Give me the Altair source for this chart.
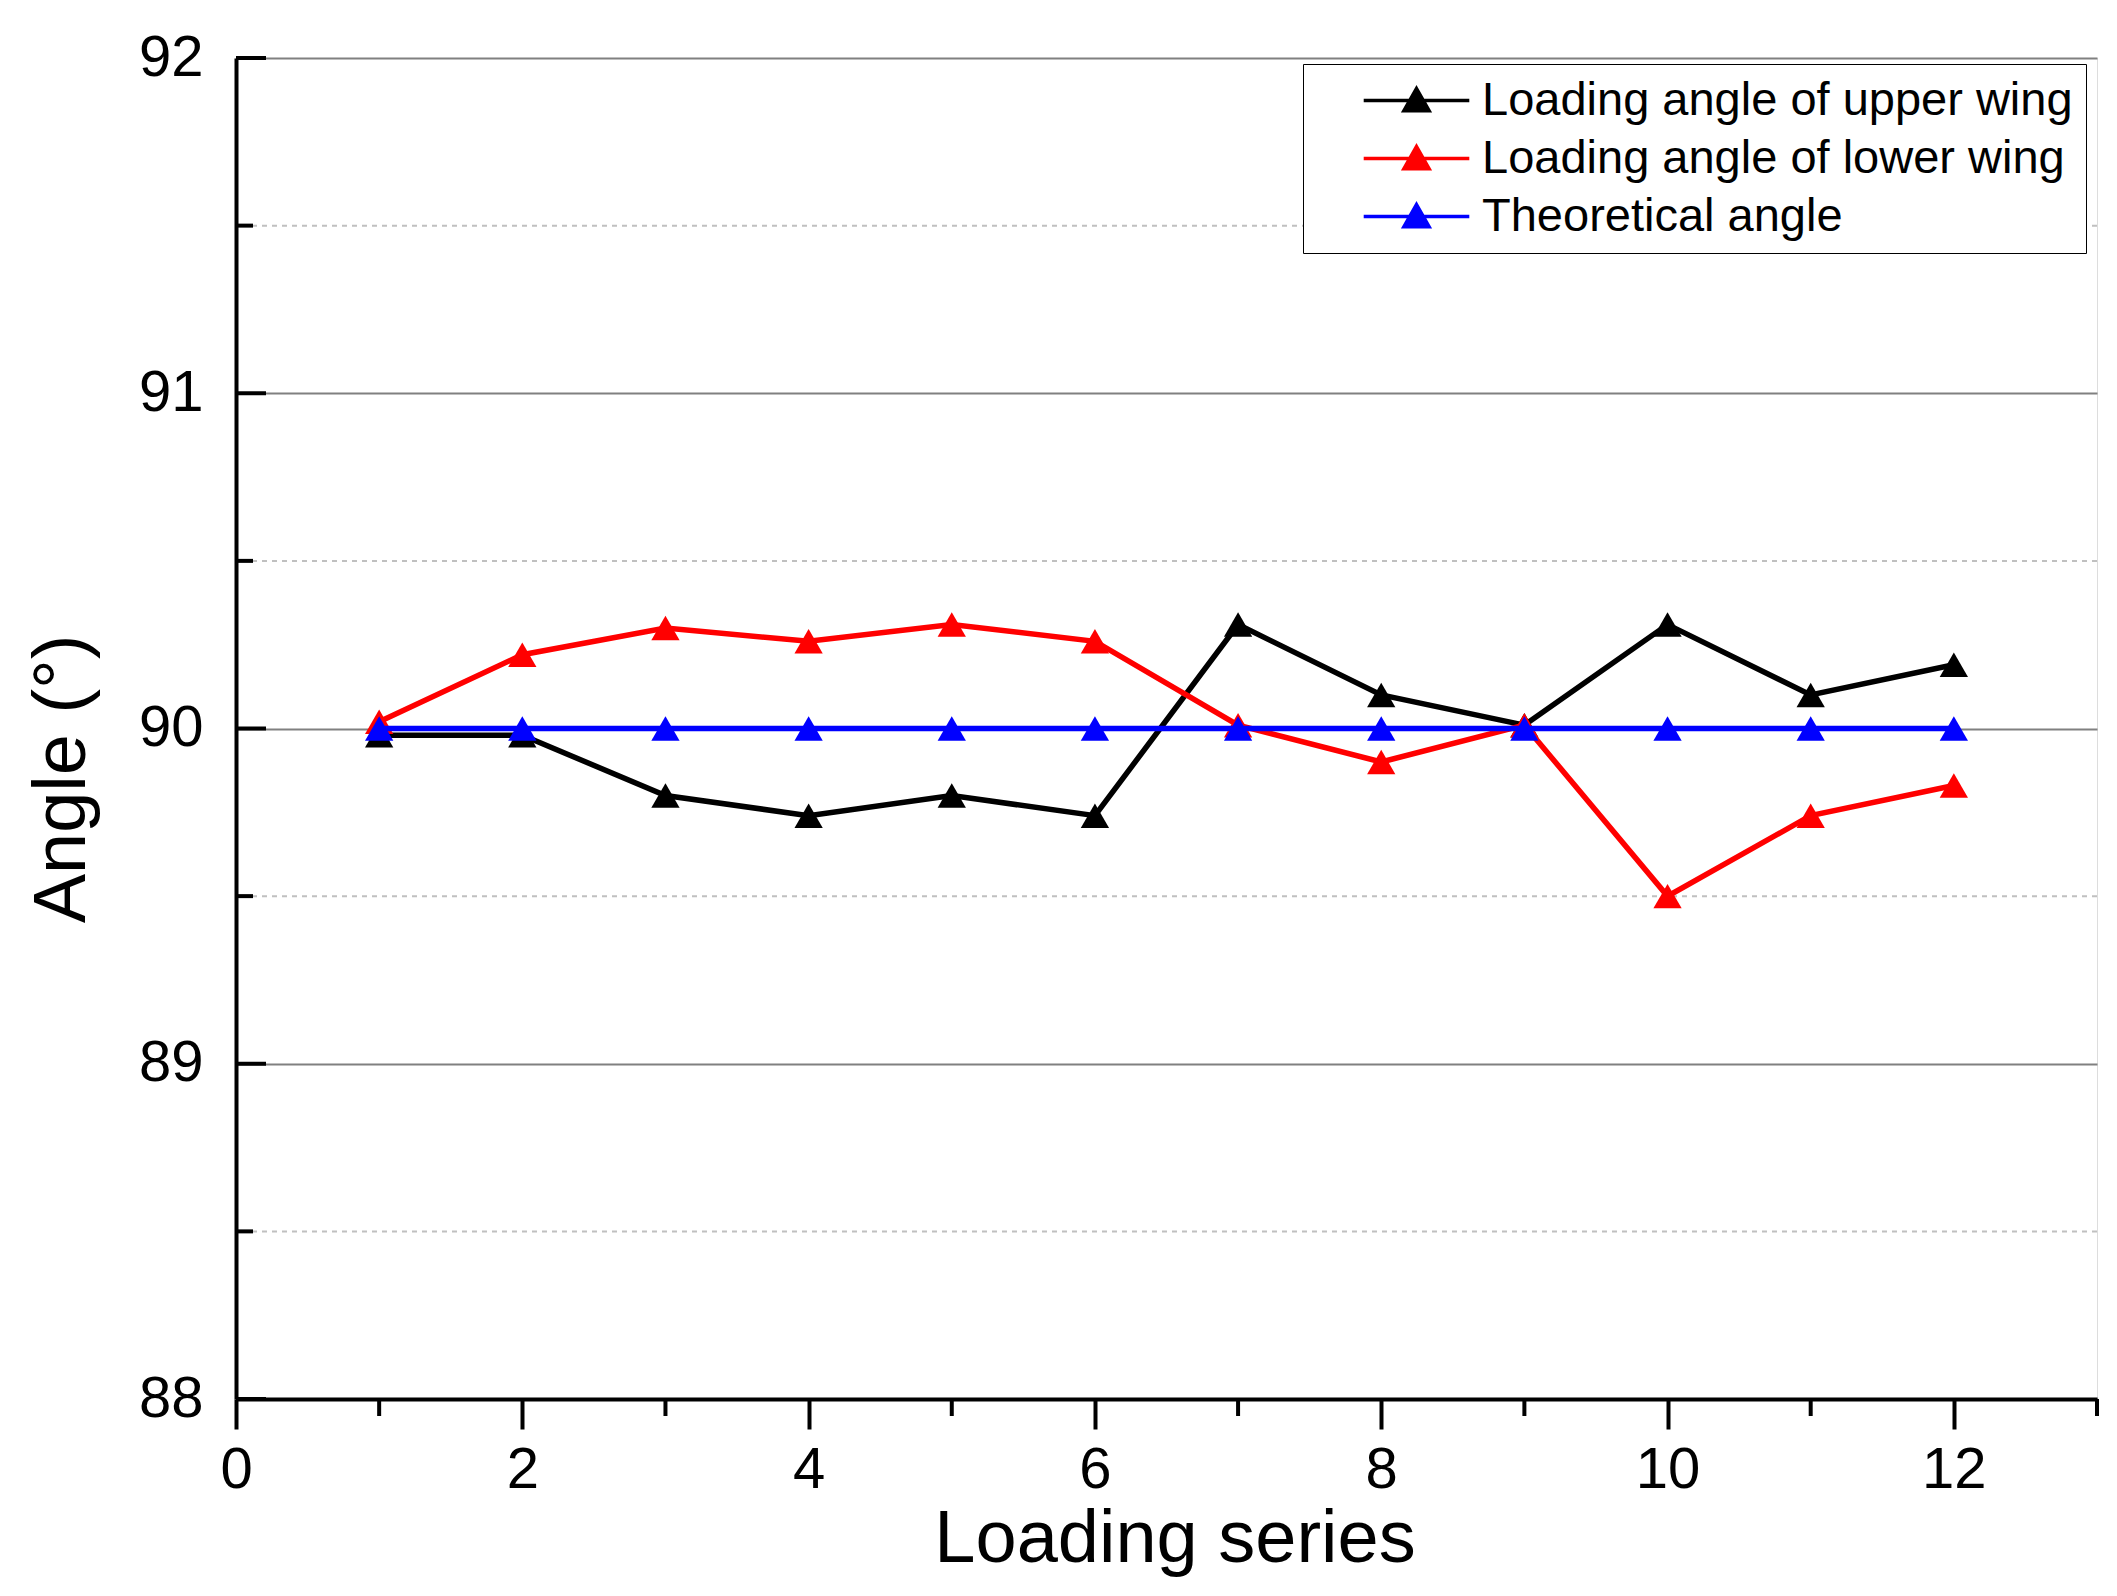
import altair as alt
import pandas as pd

# ---- data ----
loading = [1, 2, 3, 4, 5, 6, 7, 8, 9, 10, 11, 12]
upper_wing = [89.98, 89.98, 89.80, 89.74, 89.80, 89.74, 90.31, 90.10, 90.01, 90.31, 90.10, 90.19]
lower_wing = [90.02, 90.22, 90.30, 90.26, 90.31, 90.26, 90.01, 89.90, 90.01, 89.50, 89.74, 89.83]
theoretical = [90.0, 90.0, 90.0, 90.0, 90.0, 90.0, 90.0, 90.0, 90.0, 90.0, 90.0, 90.0]
series_names = ["Loading angle of upper wing", "Loading angle of lower wing", "Theoretical angle"]
series_colors = ["#000000", "#ff0000", "#0000ff"]
y_major = [88, 89, 90, 91, 92]
y_minor = [88.5, 89.5, 90.5, 91.5]
x_major = [0, 2, 4, 6, 8, 10, 12]
x_minor = [1, 3, 5, 7, 9, 11, 13]

W, H = 1861, 1341
FONT = "Liberation Sans"

frames = []
for name, vals in zip(series_names, [upper_wing, lower_wing, theoretical]):
    frames.append(pd.DataFrame({"series": name, "x": loading, "y": vals}))

xscale = alt.Scale(domain=[0, 13], nice=False, zero=False)
yscale = alt.Scale(domain=[88, 92], nice=False, zero=False)
cscale = alt.Scale(domain=series_names, range=series_colors)

xaxis = alt.Axis(values=x_major, format="d", title="Loading series", grid=False, tickSize=30,
                 tickWidth=4, tickColor="black", domainColor="black", domainWidth=4,
                 labelFontSize=58, labelPadding=12, titleFontSize=74, titlePadding=4,
                 titleX=W / 2 + 8,
                 labelFlush=False, labelFont=FONT, titleFont=FONT, titleFontWeight="normal",
                 labelColor="black", titleColor="black")
yaxis = alt.Axis(values=y_major, format="d", title="Angle (°)", grid=True, gridColor="#808080",
                 gridWidth=2, ticks=False, domainColor="black", domainWidth=4,
                 labelFontSize=58, labelPadding=33, titleFontSize=74, titlePadding=38,
                 titleY=H / 2 + 50,
                 labelFlush=False, labelFont=FONT, titleFont=FONT, titleFontWeight="normal",
                 labelColor="black", titleColor="black")

leg_path = ("M-4.4,0H4.4"
            "M0,-1.0L1.05,0.85L-1.05,0.85Z"
            "M0,-0.38L0.52,0.55L-0.52,0.55Z"
            "M0,0.08L0.15,0.34L-0.15,0.34Z")

legend = alt.Legend(title=None, orient="none", legendX=1067, legendY=6,
                    symbolType=leg_path, symbolSize=576, symbolStrokeWidth=3.5,
                    symbolOffset=77, labelOffset=42, labelFontSize=47, labelFont=FONT,
                    labelColor="black", labelLimit=2000, rowPadding=10, padding=13,
                    strokeColor="black", fillColor="white", cornerRadius=0)

color_enc = alt.Color("series:N", scale=cscale, legend=legend)

layers = []
minor_grid = alt.Chart(pd.DataFrame({"v": y_minor})).mark_rule(
    color="#c0c0c0", strokeDash=[5, 5], strokeWidth=2
).encode(y=alt.Y("v:Q", scale=yscale, axis=yaxis))
layers.append(minor_grid)

for df in frames:
    base = alt.Chart(df).encode(
        x=alt.X("x:Q", scale=xscale, axis=xaxis),
        y=alt.Y("y:Q", scale=yscale, axis=yaxis),
        color=color_enc,
    )
    layers.append(base.mark_line(strokeWidth=5.5))
    layers.append(base.mark_point(shape="triangle-up", filled=True, size=800, opacity=1))

ymaj_ticks = alt.Chart(pd.DataFrame({"v": y_major})).mark_rule(color="black", strokeWidth=4).encode(
    y=alt.Y("v:Q", scale=yscale), x=alt.value(0), x2=alt.value(30))
ymin_ticks = alt.Chart(pd.DataFrame({"v": y_minor})).mark_rule(color="black", strokeWidth=4).encode(
    y=alt.Y("v:Q", scale=yscale), x=alt.value(0), x2=alt.value(17))
xmin_ticks = alt.Chart(pd.DataFrame({"v": x_minor})).mark_rule(color="black", strokeWidth=4).encode(
    x=alt.X("v:Q", scale=xscale), y=alt.value(H), y2=alt.value(H + 17))
layers += [ymaj_ticks, ymin_ticks, xmin_ticks]

chart = alt.layer(*layers).properties(
    width=W, height=H,
    autosize=alt.AutoSizeParams(type="none"),
    padding={"left": 228, "top": 50, "right": 12, "bottom": 189},
).configure_view(
    stroke="black", strokeWidth=4, fill="white"
).configure(background="white")

chart.save("out.html", embed_options={"renderer": "svg", "actions": False})
